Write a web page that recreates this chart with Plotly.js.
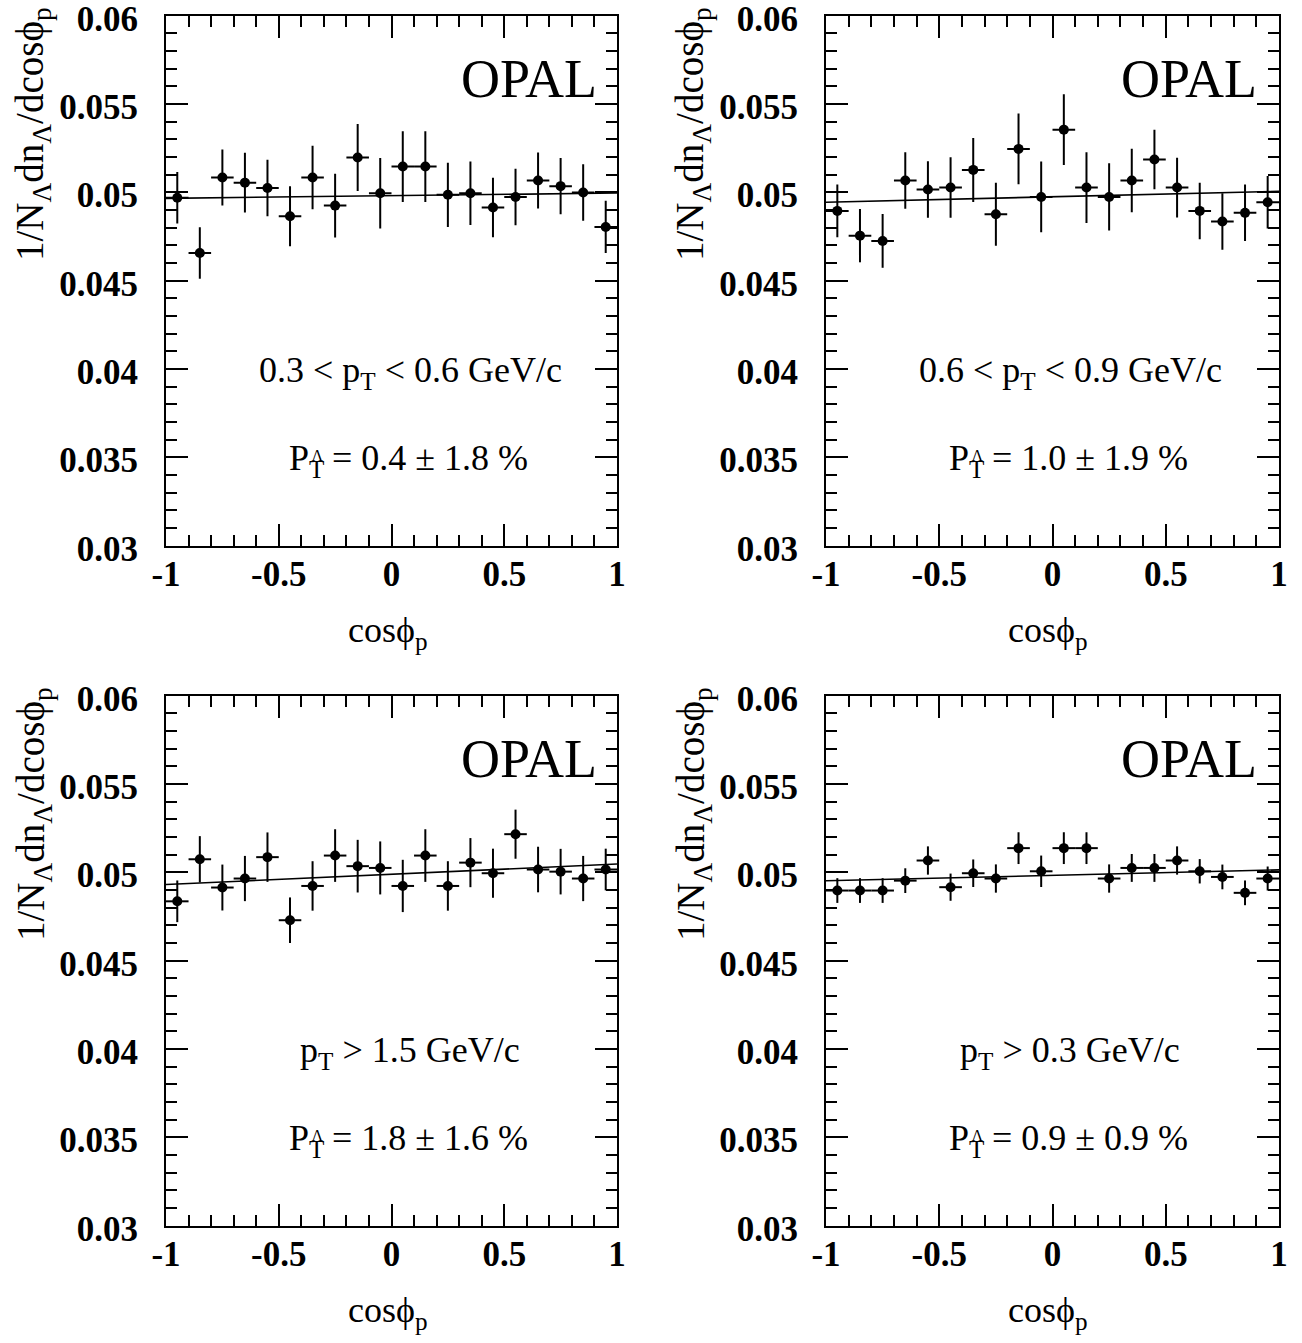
<!DOCTYPE html>
<html>
<head>
<meta charset="utf-8">
<script src="https://cdn.plot.ly/plotly-3.0.1.min.js"></script>
<style>
  html, body { margin: 0; padding: 0; background: #fff; }
  #chart { width: 1302px; height: 1343px; }
</style>
</head>
<body>
<div id="chart"></div>
<script>
// ---------------- DATA ----------------
const binCenters = [-0.95, -0.85, -0.75, -0.65, -0.55, -0.45, -0.35, -0.25, -0.15, -0.05,
                     0.05,  0.15,  0.25,  0.35,  0.45,  0.55,  0.65,  0.75,  0.85,  0.95];
const binHalfWidth = 0.05;

// 0.3 < pT < 0.6 GeV/c
const valsA = [0.04968, 0.04656, 0.05083, 0.05054, 0.05024, 0.04864, 0.05083, 0.04924, 0.05196, 0.04994,
               0.05145, 0.05145, 0.04985, 0.04994, 0.04913, 0.04973, 0.05066, 0.05034, 0.04998, 0.04803];
const errsA = [0.00146, 0.00146, 0.00159, 0.00169, 0.00160, 0.00170, 0.00180, 0.00180, 0.00190, 0.00200,
               0.00200, 0.00200, 0.00182, 0.00180, 0.00168, 0.00160, 0.00159, 0.00159, 0.00160, 0.00148];
const fitA = [0.04980, 0.00015];   // intercept, slope

// 0.6 < pT < 0.9 GeV/c
const valsB = [0.04894, 0.04754, 0.04724, 0.05066, 0.05015, 0.05026, 0.05126, 0.04875, 0.05245, 0.04973,
               0.05354, 0.05026, 0.04973, 0.05066, 0.05185, 0.05026, 0.04894, 0.04834, 0.04883, 0.04943];
const errsB = [0.00149, 0.00151, 0.00152, 0.00160, 0.00160, 0.00171, 0.00181, 0.00179, 0.00200, 0.00200,
               0.00200, 0.00200, 0.00190, 0.00180, 0.00169, 0.00169, 0.00160, 0.00160, 0.00160, 0.00149];
const fitB = [0.04974, 0.00031];

// pT > 1.5 GeV/c
const valsC = [0.04835, 0.05073, 0.04913, 0.04964, 0.05085, 0.04728, 0.04922, 0.05094, 0.05034, 0.05024,
               0.04922, 0.05094, 0.04922, 0.05054, 0.04994, 0.05215, 0.05015, 0.05003, 0.04964, 0.05015];
const errsC = [0.00118, 0.00131, 0.00130, 0.00128, 0.00140, 0.00129, 0.00140, 0.00149, 0.00149, 0.00150,
               0.00148, 0.00149, 0.00140, 0.00139, 0.00139, 0.00139, 0.00129, 0.00129, 0.00128, 0.00118];
const fitC = [0.04988, 0.00058];

// pT > 0.3 GeV/c
const valsD = [0.04896, 0.04896, 0.04896, 0.04952, 0.05066, 0.04915, 0.04994, 0.04964, 0.05136, 0.05005,
               0.05136, 0.05136, 0.04964, 0.05024, 0.05024, 0.05066, 0.05005, 0.04973, 0.04883, 0.04964];
const errsD = [0.00070, 0.00070, 0.00070, 0.00070, 0.00080, 0.00077, 0.00078, 0.00080, 0.00090, 0.00089,
               0.00090, 0.00090, 0.00080, 0.00079, 0.00079, 0.00080, 0.00069, 0.00070, 0.00070, 0.00068];
const fitD = [0.04982, 0.00031];

const cutLabels = ["0.3 < p<sub>T</sub> < 0.6 GeV/c", "0.6 < p<sub>T</sub> < 0.9 GeV/c",
                   "p<sub>T</sub> > 1.5 GeV/c", "p<sub>T</sub> > 0.3 GeV/c"];
const polValues = ["0.4 ± 1.8 %", "1.0 ± 1.9 %", "1.8 ± 1.6 %", "0.9 ± 0.9 %"];

const xTickVals = [-1, -0.5, 0, 0.5, 1];
const xTickText = ["-1", "-0.5", "0", "0.5", "1"];
const yTickVals = [0.03, 0.035, 0.04, 0.045, 0.05, 0.055, 0.06];
const yTickText = ["0.03", "0.035", "0.04", "0.045", "0.05", "0.055", "0.06"];
const xRange = [-1, 1];
const yRange = [0.03, 0.06];

const xTitle = "cosϕ<sub>p</sub>";
const yTitle = "1/N<sub>Λ</sub>dn<sub>Λ</sub>/dcosϕ<sub>p</sub>";
const expLabel = "OPAL";

// P with sub T and a small Λ stacked above it
function polText(v) {
  return "P<sub><span style='letter-spacing:-13px'>T</span></sub>" +
         "<span style='font-size:16px;baseline-shift:9px'>Λ</span> = " + v;
}

// ---------------- LAYOUT ----------------
const W = 1302, H = 1343;
const px = v => v / W;
const py = v => 1 - v / H;
const SERIF = "Liberation Serif, Times New Roman, serif";

const panels = [
  {vals: valsA, errs: errsA, fit: fitA, ox: 0,   oy: 0,   xd: [166, 617], yd: [15.5, 545.5]},
  {vals: valsB, errs: errsB, fit: fitB, ox: 660, oy: 0,   xd: [826, 1279], yd: [15.5, 545.5]},
  {vals: valsC, errs: errsC, fit: fitC, ox: 0,   oy: 680, xd: [166, 617], yd: [695.5, 1225.5]},
  {vals: valsD, errs: errsD, fit: fitD, ox: 660, oy: 680, xd: [826, 1279], yd: [695.5, 1225.5]}
];

const data = [];
const layout = {
  width: W, height: H,
  margin: {l: 0, r: 0, t: 0, b: 0},
  paper_bgcolor: '#fff', plot_bgcolor: 'rgba(0,0,0,0)',
  showlegend: false,
  annotations: []
};

function axisCommon() {
  return {
    ticks: 'inside', ticklen: 22, tickwidth: 2, tickcolor: '#000',
    showline: true, linewidth: 2, linecolor: '#000', mirror: 'ticks',
    showgrid: false, zeroline: false, fixedrange: true,
    tickmode: 'array', ticklabeloverflow: 'allow',
    tickfont: {family: SERIF, size: 35, weight: 'bold', color: '#000'}
  };
}

panels.forEach((p, i) => {
  const n = i + 1;
  const xa = 'x' + (n === 1 ? '' : n);
  const ya = 'y' + (n === 1 ? '' : n);

  layout['xaxis' + (n === 1 ? '' : n)] = Object.assign(axisCommon(), {
    domain: [px(p.xd[0]), px(p.xd[1])], anchor: ya, range: xRange,
    tickvals: xTickVals, ticktext: xTickText, ticklabelstandoff: -4,
    minor: {tickmode: 'linear', tick0: -1, dtick: 0.1, ticks: 'inside', ticklen: 11, tickwidth: 2, tickcolor: '#000', showgrid: false}
  });
  layout['yaxis' + (n === 1 ? '' : n)] = Object.assign(axisCommon(), {
    domain: [py(p.yd[1]), py(p.yd[0])], anchor: xa, range: yRange,
    tickvals: yTickVals, ticktext: yTickText, ticklabelstandoff: 19, ticklabelshift: 3,
    minor: {tickmode: 'linear', tick0: 0.03, dtick: 0.001, ticks: 'inside', ticklen: 11, tickwidth: 2, tickcolor: '#000', showgrid: false}
  });

  // fit line
  data.push({
    type: 'scatter', mode: 'lines', xaxis: xa, yaxis: ya,
    x: xRange, y: xRange.map(x => p.fit[0] + p.fit[1] * x),
    line: {color: '#000', width: 1.6}, hoverinfo: 'skip'
  });
  // data points
  data.push({
    type: 'scatter', mode: 'markers', xaxis: xa, yaxis: ya,
    x: binCenters, y: p.vals,
    marker: {color: '#000', size: 10, symbol: 'circle'},
    error_y: {type: 'data', array: p.errs, visible: true, color: '#000', thickness: 2, width: 0},
    error_x: {type: 'constant', value: binHalfWidth, visible: true, color: '#000', thickness: 2, width: 0},
    cliponaxis: false
  });

  const A = layout.annotations;
  // OPAL
  A.push({xref: 'paper', yref: 'paper', x: px(p.ox + 599), y: py(p.oy + 79), xanchor: 'right', yanchor: 'middle',
          text: expLabel, showarrow: false, font: {family: SERIF, size: 54, color: '#000'}});
  // cut label
  A.push({xref: 'paper', yref: 'paper', x: px(p.ox + 410), y: py(p.oy + 372), xanchor: 'center', yanchor: 'middle',
          text: cutLabels[i], showarrow: false, font: {family: SERIF, size: 36, color: '#000'}});
  // polarisation label
  A.push({xref: 'paper', yref: 'paper', x: px(p.ox + 287), y: py(p.oy + 460), xanchor: 'left', yanchor: 'middle',
          text: polText(polValues[i]), showarrow: false, font: {family: SERIF, size: 36, color: '#000'}});
  // y title
  A.push({xref: 'paper', yref: 'paper', x: px(p.ox + 33), y: py(p.oy + 5), xanchor: 'center', yanchor: 'top',
          textangle: -90, text: yTitle, showarrow: false, font: {family: SERIF, size: 39, color: '#000'}});
  // x title
  A.push({xref: 'paper', yref: 'paper', x: px(p.ox + 388), y: py(p.oy + 632), xanchor: 'center', yanchor: 'middle',
          text: xTitle, showarrow: false, font: {family: SERIF, size: 36, color: '#000'}});
});

Plotly.newPlot('chart', data, layout, {displayModeBar: false, staticPlot: true});
</script>
</body>
</html>
